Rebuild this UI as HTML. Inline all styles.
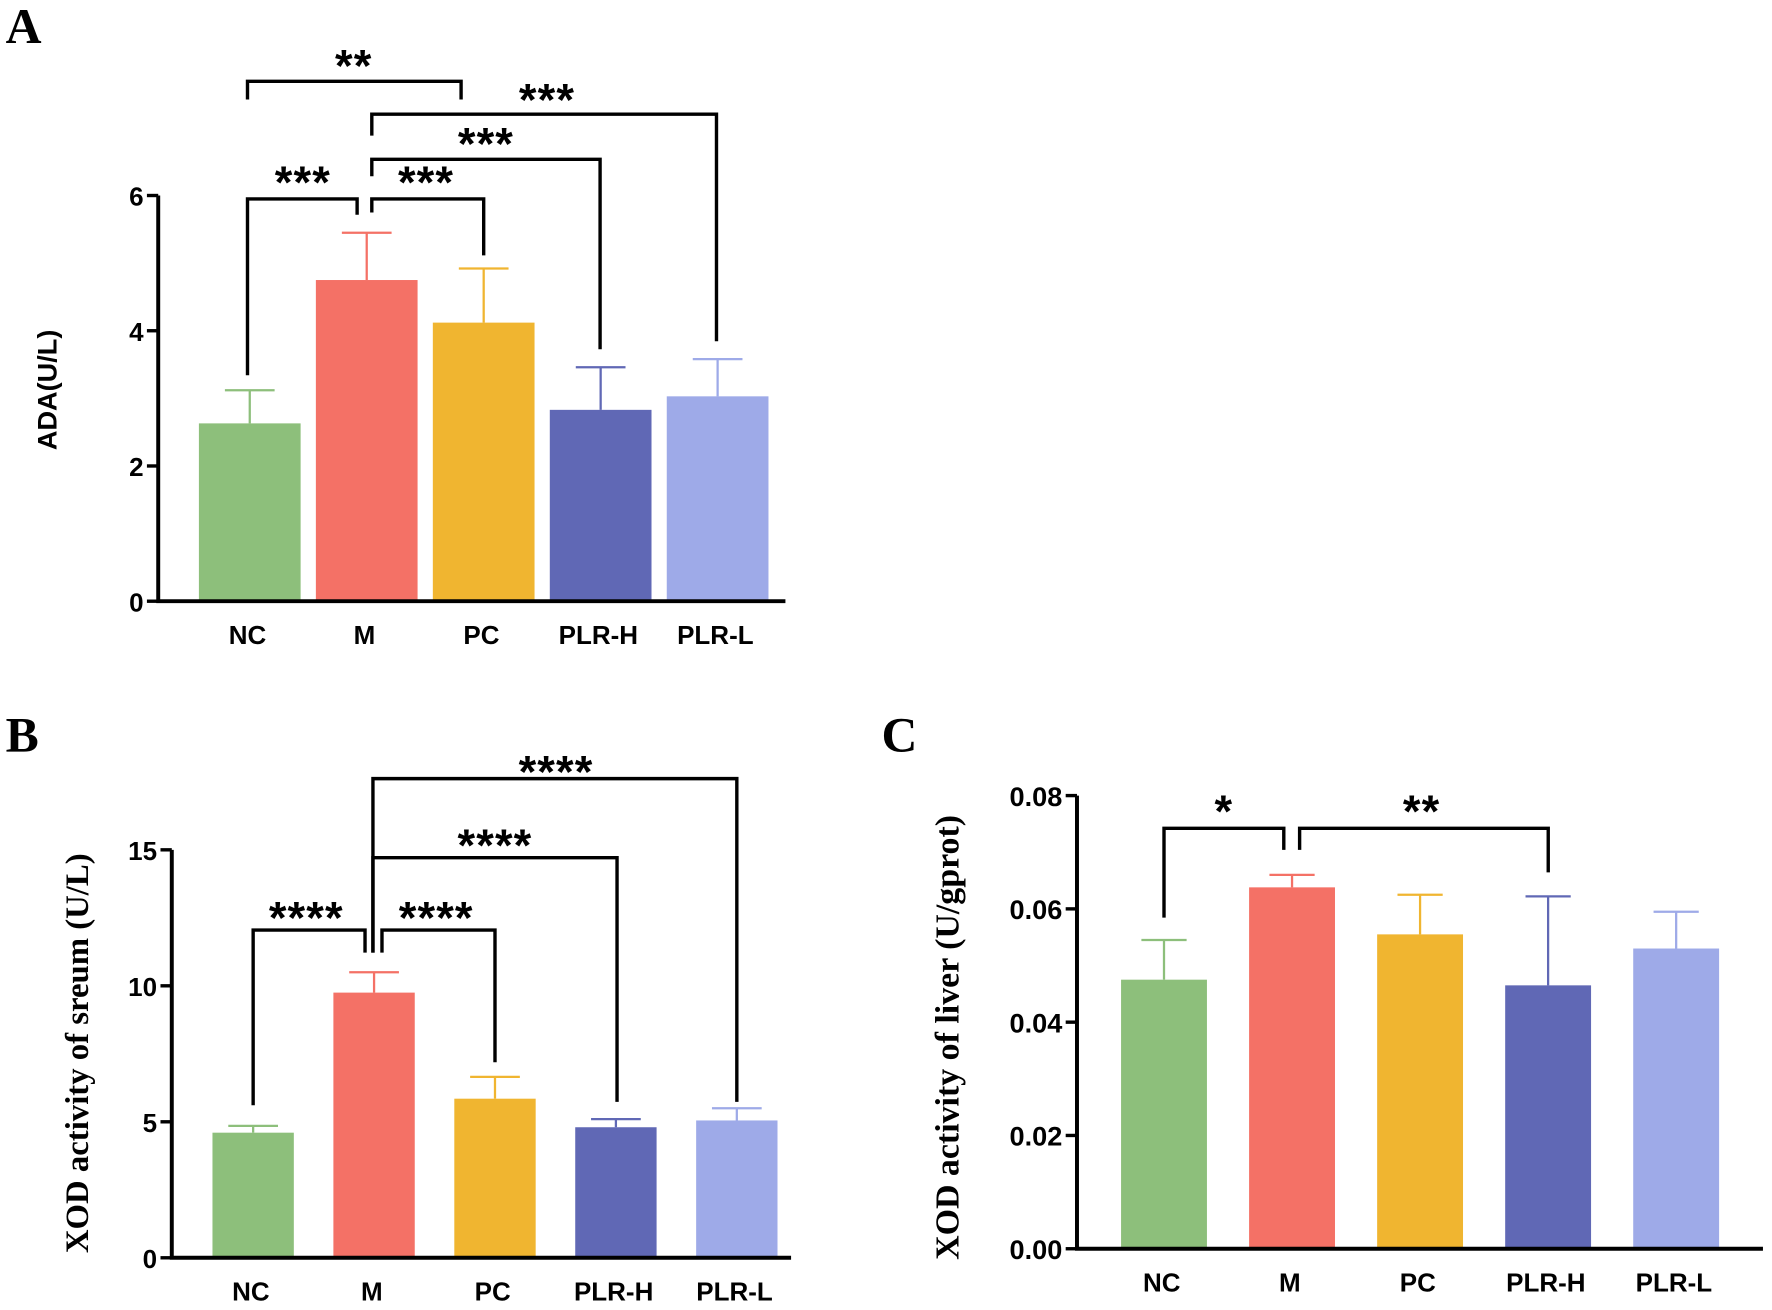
<!DOCTYPE html>
<html><head><meta charset="utf-8"><style>
html,body{margin:0;padding:0;background:#fff}
svg{display:block}
.t{font-family:"Liberation Sans",sans-serif;font-weight:bold;fill:#000}
.s{font-family:"Liberation Serif",serif;font-weight:bold;fill:#000}
</style></head><body>
<svg id="fig" width="1772" height="1310" viewBox="0 0 1568 1159.2" xmlns="http://www.w3.org/2000/svg"></svg>
<script>
const categories = ["NC","M","PC","PLR-H","PLR-L"];
const colors = ["#8dbf7b","#f47166","#f0b530","#6068b5","#9eaae8"];
const adaValues = [2.63,4.75,4.12,2.83,3.03];
const adaErrors = [3.12,5.45,4.92,3.46,3.58];
const adaTicks = [0,2,4,6];
const serumValues = [4.6,9.75,5.85,4.8,5.05];
const serumErrors = [4.85,10.5,6.65,5.1,5.5];
const serumTicks = [0,5,10,15];
const liverValues = [0.0475,0.0638,0.0555,0.0465,0.053];
const liverErrors = [0.0545,0.066,0.0625,0.0622,0.0595];
const liverTicks = ["0.00","0.02","0.04","0.06","0.08"];

const svg = document.getElementById('fig');
const NS = "http://www.w3.org/2000/svg";
function mk(tag, attrs, parent){const e=document.createElementNS(NS,tag);for(const k in attrs)e.setAttribute(k,attrs[k]);(parent||svg).appendChild(e);return e;}
function txt(x,y,s,cls,size,anchor,parent){const e=mk('text',{x:x,y:y,class:cls,'font-size':size,'text-anchor':anchor||'middle'},parent);e.textContent=s;return e;}

function panel(cfg){
  const g=mk('g',{});
  
  
  const yS=v=>cfg.y0-(v-cfg.vmin)/(cfg.vmax-cfg.vmin)*(cfg.y0-cfg.y1);
  const xS=i=>cfg.xFirst+i*cfg.step;
  cfg.values.forEach((v,i)=>{
    const cx=xS(i), top=yS(v), et=yS(cfg.errors[i]);
    const b=mk('rect',{x:cx-cfg.bw/2,y:top,width:cfg.bw,height:cfg.y0-top,fill:colors[i]},g);
    
    
    const e=mk('path',{d:`M${cx},${top}V${et}M${cx-cfg.cap},${et}H${cx+cfg.cap}`,stroke:colors[i],'stroke-width':2,fill:'none'},g);
    
    
    const l=txt(cx-2,cfg.y0+38,categories[i],'t',23,'middle',g);
    
    
  });
  const ax=mk('path',{d:`M${cfg.ax},${yS(cfg.vmax)}V${cfg.y0}H${cfg.xEnd}`,stroke:'#000','stroke-width':3.5,fill:'none'},g);
  
  
  cfg.ticks.forEach(t=>{
    const y=yS(parseFloat(t));
    mk('line',{x1:cfg.ax-10,x2:cfg.ax,y1:y,y2:y,stroke:'#000','stroke-width':3},g);
    const tl=txt(cfg.ax-13,y+9,String(t),'t',cfg.tickSize,'end',g);
    
    
  });
  const yl=txt(0,0,cfg.ylabel,cfg.ycls,cfg.ysize,'middle',g);
  yl.setAttribute('transform',`translate(${cfg.ylx},${cfg.yly}) rotate(-90)`);
  
  
  cfg.brackets.forEach(b=>{
    const p=mk('path',{d:b.d,stroke:'#000','stroke-width':3,fill:'none'},g);
    
    
    const s=txt(b.tx,b.ty+4,b.label,'t',40,'middle',g);
    s.setAttribute('letter-spacing','1');
    
    
  });
  const L=txt(cfg.lx,cfg.ly,cfg.letter,'s',44,'start',g);
  
  
}

panel({name:'panel-a-ada',letter:'A',lx:5,ly:38,values:adaValues,errors:adaErrors,ticks:adaTicks,vmin:0,vmax:6,y0:532,y1:173,
  ax:140,xEnd:695,xFirst:221,step:103.5,bw:90,cap:22,tickSize:23,
  ylabel:'ADA(U/L)',ycls:'t',ysize:24,ylx:50,yly:345,
  brackets:[
   {d:'M219,88V72H408V88',tx:313,ty:68,label:'**'},
   {d:'M329,120V101H634V302',tx:484,ty:98,label:'***'},
   {d:'M329,156V141H531V309',tx:430,ty:137,label:'***'},
   {d:'M219,332V176H316V190',tx:268,ty:171,label:'***'},
   {d:'M329,188V176H428V226',tx:377,ty:171,label:'***'}
  ]});

panel({name:'panel-b-serum-xod',letter:'B',lx:5,ly:665,values:serumValues,errors:serumErrors,ticks:serumTicks,vmin:0,vmax:15,y0:1113,y1:752,
  ax:152,xEnd:700,xFirst:224,step:107,bw:72,cap:22,tickSize:23,
  ylabel:'XOD activity of sreum (U/L)',ycls:'s',ysize:29,ylx:78,yly:932,
  brackets:[
   {d:'M330,843V689H652V975',tx:492,ty:693,label:'****'},
   {d:'M330,843V759H546V975',tx:438,ty:758,label:'****'},
   {d:'M224,978V823H323V843',tx:271,ty:822,label:'****'},
   {d:'M338,843V823H438V940',tx:386,ty:822,label:'****'}
  ]});

panel({name:'panel-c-liver-xod',letter:'C',lx:780,ly:665,values:liverValues,errors:liverErrors,ticks:liverTicks,vmin:0,vmax:0.08,y0:1105,y1:704,
  ax:953,xEnd:1560,xFirst:1030,step:113.3,bw:76,cap:20,tickSize:24,
  ylabel:'XOD activity of liver (U/gprot)',ycls:'s',ysize:30,ylx:848,yly:918,
  brackets:[
   {d:'M1030,812V733H1136V752',tx:1083,ty:728,label:'*'},
   {d:'M1150,752V733H1370V772',tx:1258,ty:728,label:'**'}
  ]});
</script>
</body></html>
